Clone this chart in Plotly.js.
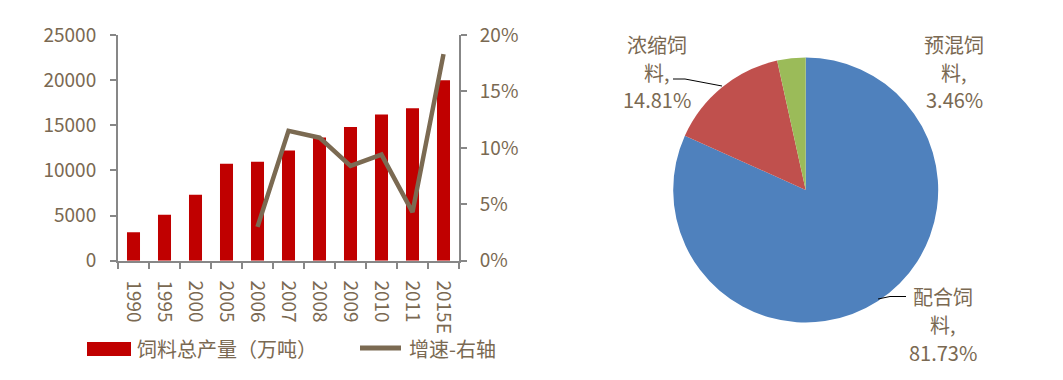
<!DOCTYPE html>
<html><head><meta charset="utf-8">
<script src="https://cdn.plot.ly/plotly-3.0.1.min.js"></script>
<style>html,body{margin:0;padding:0;background:#fff}</style>
</head><body><div id="chart" style="width:1063px;height:380px"></div>
<script>
// ---- data ----
const years = ['1990','1995','2000','2005','2006','2007','2008','2009','2010','2011','2015E'];
const feedOutput = [3150,5100,7300,10750,10950,12200,13650,14800,16200,16900,20000];
const growthYears = ['2006','2007','2008','2009','2010','2011','2015E'];
const growthRate = [0.030,0.115,0.109,0.084,0.094,0.043,0.183];
const barName = '饲料总产量（万吨）';
const lineName = '增速-右轴';
const pieLabels = ['配合饲料','浓缩饲料','预混饲料'];
const pieValues = [81.73,14.81,3.46];

// ---- styling ----
const W = 1063, H = 380;
const px = x => x / W, py = y => 1 - y / H;
const FONT = '"Noto Sans CJK SC", "Noto Sans", sans-serif';
const TXT = '#7a6952';
const AX = '#878787';
const BAR = '#c00000';
const LINE = '#7b6a52';
const pieColors = ['#4f81bd','#c0504d','#9bbb59'];
// label anchor (center x, first-line center y) per slice, in pixels
const pieLabelPos = [[943,296],[657,44],[954,44]];
const lineGap = 28;

const traces = [
  {type:'bar', x: years, y: feedOutput, name: barName, marker:{color:BAR, line:{width:0}},
   xaxis:'x', yaxis:'y', showlegend:false},
  {type:'scatter', mode:'lines', x: growthYears, y: growthRate, name: lineName,
   line:{color:LINE, width:4.5}, xaxis:'x', yaxis:'y2', showlegend:false},
  {type:'pie', labels: pieLabels, values: pieValues, sort:false, direction:'clockwise', rotation:0,
   marker:{colors: pieColors, line:{width:0}}, textinfo:'none',
   domain:{x:[px(673.2), px(938.2)], y:[py(322.5), py(57.5)]}, showlegend:false}
];

const annotations = [];
pieLabels.forEach((lab, i) => {
  const lines = [lab.slice(0,3), lab.slice(3) + ',', pieValues[i].toFixed(2) + '%'];
  lines.forEach((t, k) => {
    annotations.push({xref:'paper', yref:'paper', x: px(pieLabelPos[i][0]), y: py(pieLabelPos[i][1] + k*lineGap),
      text: t, showarrow:false, xanchor:'center', yanchor:'middle', font:{family:FONT, size:20, color:TXT}});
  });
});
// custom legend text
annotations.push({xref:'paper', yref:'paper', x: px(135), y: py(348), text: barName, showarrow:false,
  xanchor:'left', yanchor:'middle', font:{family:FONT, size:20, color:TXT}});
annotations.push({xref:'paper', yref:'paper', x: px(407), y: py(348), text: lineName, showarrow:false,
  xanchor:'left', yanchor:'middle', font:{family:FONT, size:20, color:TXT}});

const shapes = [
  // legend swatches
  {type:'rect', xref:'paper', yref:'paper', x0:px(87), x1:px(131), y0:py(356), y1:py(342), fillcolor:BAR, line:{width:0}},
  {type:'line', xref:'paper', yref:'paper', x0:px(360), x1:px(401), y0:py(348), y1:py(348), line:{color:LINE, width:5}},
  // pie leader lines
  {type:'line', xref:'paper', yref:'paper', x0:px(673), x1:px(685), y0:py(79), y1:py(79), line:{color:'#000', width:1}},
  {type:'line', xref:'paper', yref:'paper', x0:px(685), x1:px(722), y0:py(79), y1:py(86), line:{color:'#000', width:1}},
  {type:'line', xref:'paper', yref:'paper', x0:px(878), x1:px(890), y0:py(299), y1:py(296.5), line:{color:'#000', width:1}},
  {type:'line', xref:'paper', yref:'paper', x0:px(890), x1:px(906), y0:py(296.5), y1:py(296.5), line:{color:'#000', width:1}}
];

const layout = {
  width: W, height: H, margin:{l:0, r:0, t:0, b:0},
  paper_bgcolor:'#fff', plot_bgcolor:'rgba(0,0,0,0)',
  font:{family:FONT, size:19, color:TXT},
  showlegend:false, bargap:0.58,
  xaxis:{domain:[px(118), px(459)], type:'category', range:[-0.5, 10.5], tickson:'boundaries',
    ticks:'outside', ticklen:6, tickwidth:2, tickcolor:AX, showline:true, linecolor:AX, linewidth:2,
    showgrid:false, zeroline:false, tickangle:90, ticklabelstandoff:14, fixedrange:true,
    tickfont:{family:FONT, size:19, color:TXT}, anchor:'y'},
  yaxis:{domain:[py(260.7), py(35)], range:[0, 25000], dtick:5000, tickformat:'d', ticks:'outside', ticklen:6, tickwidth:2,
    tickcolor:AX, showline:true, linecolor:AX, linewidth:2, showgrid:false, zeroline:false,
    ticklabelstandoff:10, tickfont:{family:FONT, size:19, color:TXT}, anchor:'x'},
  yaxis2:{overlaying:'y', side:'right', range:[0, 0.20], dtick:0.05, tickformat:'.0%', ticks:'outside',
    ticklen:6, tickwidth:2, tickcolor:AX, showline:true, linecolor:AX, linewidth:2, showgrid:false,
    zeroline:false, ticklabelstandoff:9, tickfont:{family:FONT, size:19, color:TXT}, anchor:'x'},
  annotations, shapes
};

Plotly.newPlot('chart', traces, layout, {staticPlot:true, displayModeBar:false});
</script></body></html>
